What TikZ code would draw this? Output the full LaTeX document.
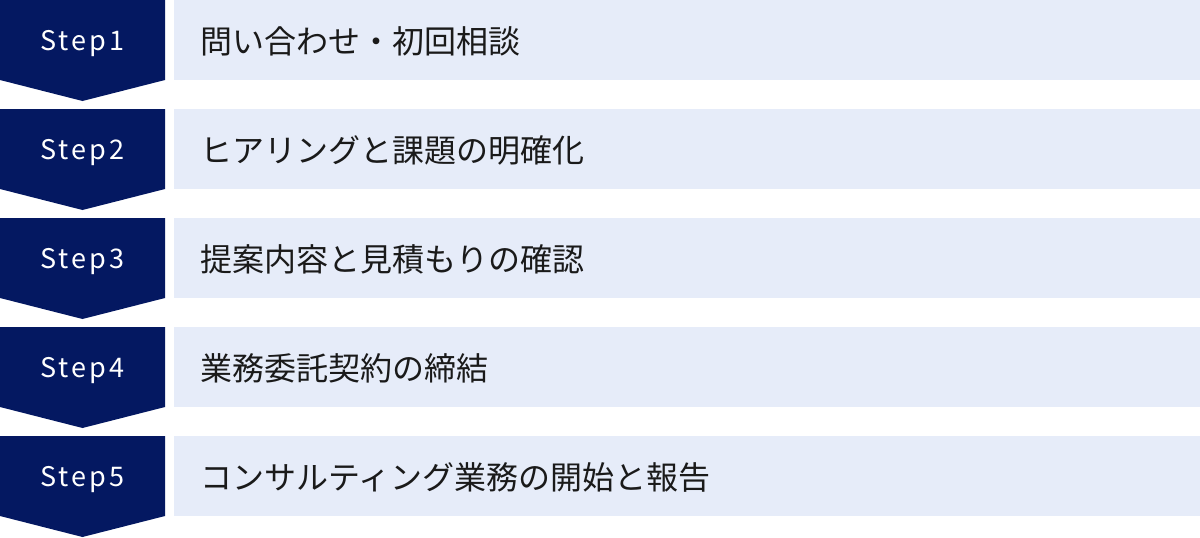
\documentclass[tikz,border=0pt]{standalone}
\usepackage{fontspec}
\newfontfamily\cjk{Noto Sans CJK JP}
\newfontfamily\cjkspaced[LetterSpace=11]{Noto Sans CJK JP}
\definecolor{navy}{RGB}{4,24,97}
\definecolor{lightbox}{RGB}{230,236,249}
\definecolor{txt}{RGB}{26,26,26}
\tikzset{
  chevron/.style={fill=navy, draw=none},
  panel/.style={fill=lightbox, draw=none},
  steplabel/.style={text=white, font=\cjkspaced\fontsize{27}{30}\selectfont, anchor=base, inner sep=0pt},
  steptext/.style={text=txt, font=\cjk\fontsize{32}{36}\selectfont, anchor=base west, inner sep=0pt},
}
\begin{document}
\begin{tikzpicture}[x=1pt,y=-1pt]
\useasboundingbox (0,0) rectangle (1200,538);
\foreach \i/\t in {1/問い合わせ・初回相談,2/ヒアリングと課題の明確化,3/提案内容と見積もりの確認,4/業務委託契約の締結,5/コンサルティング業務の開始と報告}{
  \pgfmathsetmacro{\top}{(\i-1)*109}
  \fill[chevron] (0,\top) -- (165,\top) -- (165,\top+80) -- (82.5,\top+101) -- (0,\top+80) -- cycle;
  \fill[panel] (174,\top) rectangle (1200,\top+80);
  \node[steplabel] (s\i) at (82.5,\top+50.5) {Step\i};
  \node[steptext] (t\i) at (200,\top+53) {\t};
}
\end{tikzpicture}
\end{document}
